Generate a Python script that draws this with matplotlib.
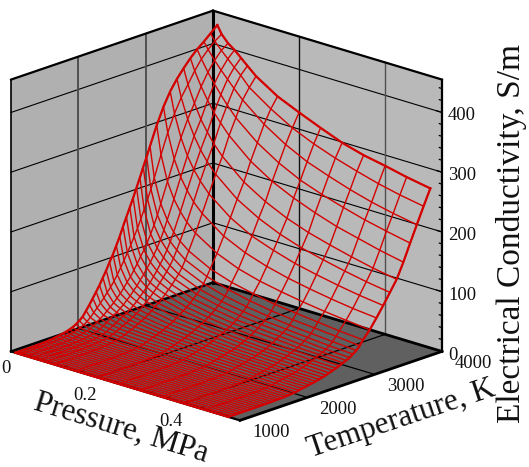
import matplotlib
matplotlib.use('Agg')
import matplotlib.pyplot as plt
import numpy as np
from mpl_toolkits.mplot3d import proj3d

plt.rcParams['font.family'] = ['Liberation Serif', 'DejaVu Serif']

PRESSURE = [0.01, 0.02, 0.035, 0.05, 0.065, 0.08, 0.1, 0.15, 0.2, 0.25, 0.3, 0.35, 0.4, 0.45, 0.505]
TEMPERATURE = list(range(1000, 3000, 50)) + list(range(3000, 4001, 100))

# conductivity, one row per temperature
SIGMA = [
    [.01] * 15,
    [.02, .01, .01, .01, .01, .01, .01, .01, .01, .01, .01, .01, .01, .01, .01],
    [.03, .02, .02, .01, .01, .01, .01, .01, .01, .01, .01, .01, .01, .01, .01],
    [.06, .04, .03, .03, .02, .02, .02, .02, .01, .01, .01, .01, .01, .01, .01],
    [.1, .07, .05, .04, .04, .04, .03, .03, .02, .02, .02, .02, .02, .01, .01],
    [.18, .13, .1, .08, .07, .06, .06, .05, .04, .04, .03, .03, .03, .03, .03],
    [.3, .2, .16, .13, .12, .1, .09, .08, .07, .06, .05, .05, .05, .04, .04],
    [.45, .32, .25, .2, .18, .16, .14, .12, .1, .09, .08, .08, .07, .07, .06],
    [.7, .5, .4, .3, .3, .25, .22, .18, .16, .14, .13, .12, .11, .1, .1],
    [1, .7, .55, .45, .4, .35, .32, .26, .22, .2, .18, .17, .16, .15, .14],
    [1.5, 1.1, .8, .7, .6, .5, .5, .4, .3, .3, .3, .25, .24, .22, .21],
    [2.1, 1.5, 1.1, .95, .85, .75, .7, .55, .48, .43, .4, .36, .34, .32, .3],
    [3, 2.1, 1.6, 1.3, 1.2, 1.1, .95, .8, .7, .6, .55, .5, .47, .45, .42],
    [3.9, 2.8, 2.1, 1.7, 1.5, 1.4, 1.2, 1, .9, .8, .7, .65, .6, .58, .55],
    [5, 3.5, 2.7, 2.2, 2, 1.8, 1.6, 1.3, 1.1, 1, .9, .85, .8, .75, .7],
    [6.2, 4.4, 3.3, 2.8, 2.4, 2.2, 2, 1.6, 1.4, 1.2, 1.1, 1, 1, .9, .9],
    [8, 5.6, 4.3, 3.6, 3.1, 2.8, 2.5, 2.1, 1.8, 1.6, 1.5, 1.3, 1.3, 1.2, 1.1],
    [10, 7.2, 5.5, 4.6, 4, 3.6, 3.2, 2.7, 2.3, 2, 1.9, 1.7, 1.6, 1.5, 1.4],
    [13, 9.2, 7, 5.8, 5.1, 4.6, 4.1, 3.4, 2.9, 2.6, 2.4, 2.2, 2.1, 1.9, 1.8],
    [17, 12, 9, 7.6, 6.6, 6, 5.3, 4.4, 3.8, 3.4, 3.1, 2.9, 2.7, 2.5, 2.4],
    [22, 16, 12, 10, 8.6, 7.8, 7, 5.7, 5, 4.4, 4, 3.7, 3.5, 3.3, 3.1],
    [30, 21, 16, 13, 11.5, 10.2, 9.3, 7.6, 6.5, 5.8, 5.3, 4.9, 4.6, 4.3, 4.1],
    [38, 27, 20, 17, 15, 13, 12, 10, 8.5, 7.5, 7, 6.5, 6, 5.8, 5.4],
    [47, 33, 24, 21, 18, 16, 14, 12, 10, 9, 8.4, 7.7, 7, 6.8, 6.4],
    [56, 39, 29, 25, 22, 19, 17, 14, 12, 11, 10, 9, 8, 8, 7.5],
    [65, 46, 34, 28, 25, 22, 20, 16, 14, 12, 11, 10, 9.5, 9, 8.5],
    [76, 53, 39, 33, 28, 25, 23, 18, 16, 14, 13, 12, 11, 10, 9.5],
    [86, 60, 45, 37, 32, 29, 26, 21, 18, 16, 14, 13, 12, 11, 11],
    [98, 68, 51, 43, 37, 33, 30, 24, 21, 18, 16, 15, 14, 13, 12.5],
    [109, 77, 58, 48, 42, 38, 34, 27, 24, 21, 18, 17, 16, 15, 14],
    [122, 87, 66, 55, 48, 43, 39, 31, 27, 24, 21, 19, 18, 17, 16],
    [135, 97, 73, 61, 54, 48, 43, 35, 30, 26, 23, 21, 20, 19, 18],
    [150, 108, 82, 69, 60, 54, 48, 39, 33, 29, 26, 24, 23, 21, 20],
    [164, 119, 91, 76, 66, 60, 54, 43, 37, 32, 29, 27, 25, 24, 22],
    [178, 131, 101, 85, 74, 67, 60, 48, 41, 36, 33, 31, 28, 27, 25],
    [192, 143, 110, 93, 82, 74, 66, 53, 46, 40, 37, 34, 31, 29, 27],
    [207, 157, 121, 103, 91, 82, 73, 59, 51, 45, 41, 38, 35, 32, 30],
    [222, 171, 133, 113, 100, 90, 80, 65, 56, 50, 45, 42, 39, 36, 34],
    [238, 186, 146, 125, 111, 100, 89, 73, 63, 56, 51, 47, 44, 41, 38],
    [253, 201, 161, 139, 123, 112, 100, 83, 72, 64, 58, 54, 51, 48, 44],
    [269, 218, 178, 154, 137, 125, 113, 94, 82, 74, 67, 63, 59, 55, 52],
    [300, 253, 211, 185, 167, 153, 139, 116, 101, 91, 84, 78, 73, 69, 65],
    [327, 286, 245, 218, 199, 183, 168, 141, 124, 112, 103, 96, 90, 85, 81],
    [349, 314, 277, 250, 230, 214, 197, 168, 148, 135, 124, 116, 109, 103, 98],
    [366, 337, 304, 279, 259, 243, 226, 195, 174, 158, 146, 137, 129, 122, 116],
    [380, 355, 327, 303, 285, 269, 252, 220, 198, 181, 168, 158, 149, 141, 134],
    [393, 374, 351, 331, 314, 300, 283, 251, 228, 211, 197, 185, 176, 167, 159],
    [404, 390, 371, 355, 340, 326, 309, 278, 255, 237, 224, 213, 203, 195, 187],
    [413, 402, 387, 374, 362, 350, 335, 305, 282, 264, 251, 239, 229, 221, 214],
    [423, 412, 400, 389, 378, 368, 352, 327, 306, 290, 277, 266, 256, 248, 241],
    [433, 420, 408, 400, 390, 380, 367, 344, 328, 313, 299, 289, 282, 274, 267],
]

P_LIM = (0, 0.532)
T_LIM = (1000, 4000)
Z_LIM = (0, 455)
P_TICKS = [0.2, 0.4]
P_TICK_LABELS = ['0.2', '0.4']
T_TICKS = [2000, 3000]
T_TICK_LABELS = ['1000', '2000', '3000', '4000']
T_LABEL_POS = [1000, 2000, 3000, 4000]
Z_TICKS = [100, 200, 300, 400]
Z_TICK_LABELS = ['100', '200', '300', '400']

RED = '#d40000'
W, H = 529, 467


def line3d(ax, p, t, z, color='k', lw=0.8, zorder=2):
    ax.plot(p, t, z, color=color, lw=lw, zorder=zorder, solid_capstyle='projecting')


def label(ax, p, t, z, s, dx, dy, size=13.4, rotation=0):
    # dx, dy in pixels from the projected data point, dy pointing down
    x2, y2, _ = proj3d.proj_transform(p, t, z, ax.get_proj())
    ax.annotate(s, (x2, y2), xytext=(dx, -dy), textcoords='offset pixels', fontsize=size,
                ha='center', va='center', rotation=rotation, rotation_mode='anchor',
                annotation_clip=False, color='#111111')


fig = plt.figure(figsize=(W / 100, H / 100), dpi=100)
side = 502.6
ax = fig.add_axes([-31.6 / W, -6.6 / H, side / W, side / H], projection='3d', proj_type='ortho')
ax.computed_zorder = False
ax.patch.set_visible(False)
ax.view_init(elev=18.7, azim=-46.8)
ax.set_box_aspect((314, 295, 287))
ax.set_xlim(*P_LIM, view_margin=0)
ax.set_ylim(*T_LIM, view_margin=0)
ax.set_zlim(*Z_LIM, view_margin=0)
ax.grid(False)
ax.set_xticks([])
ax.set_yticks([])
ax.set_zticks([])
for axis, col in [(ax.xaxis, '#b0b0b0'), (ax.yaxis, '#b9b9b9'), (ax.zaxis, '#606060')]:
    axis.set_pane_color(col)
    axis.pane.set_edgecolor(col)
    axis.line.set_color((0, 0, 0, 0))

p0, p1 = P_LIM
t0, t1 = T_LIM
z0, z1 = Z_LIM

# walls and floor grid
for z in Z_TICKS:
    line3d(ax, [p0, p0], [t0, t1], [z, z])
    line3d(ax, [p0, p1], [t1, t1], [z, z])
for t in T_TICKS:
    line3d(ax, [p0, p0], [t, t], [z0, z1], color='#505050', lw=1.4)
    line3d(ax, [p0, p1], [t, t], [z0, z0], lw=0.9)
for p, c in zip(P_TICKS, ['#111111', '#505050']):
    line3d(ax, [p, p], [t1, t1], [z0, z1], color=c, lw=1.0)
    line3d(ax, [p, p], [t0, t1], [z0, z0], lw=0.9)

# frame
line3d(ax, [p0, p0], [t0, t0], [z0, z1], lw=1.2)
line3d(ax, [p1, p1], [t1, t1], [z0, z1], lw=1.6)
line3d(ax, [p0, p0], [t1, t1], [z0, z1], lw=2.2)
line3d(ax, [p0, p0], [t0, t1], [z1, z1], lw=1.6)
line3d(ax, [p0, p1], [t1, t1], [z1, z1], lw=1.6)
line3d(ax, [p0, p0], [t0, t1], [z0, z0], lw=1.8)
line3d(ax, [p0, p1], [t1, t1], [z0, z0], lw=2.0)
line3d(ax, [p0, p1], [t0, t0], [z0, z0], lw=1.6)
line3d(ax, [p1, p1], [t0, t1], [z0, z0], lw=2.0)

# tick marks on the right wall edge and the pressure edge
for z in range(0, 456, 20):
    dp = 0.012 if z % 100 == 0 else 0.006
    line3d(ax, [p1 - dp, p1], [t1, t1], [z, z], lw=0.9)
for p in np.arange(0.04, 0.52, 0.04):
    line3d(ax, [p, p], [t0, t0 + 60], [z0, z0], lw=0.8)

# surface
P_GRID, T_GRID = np.meshgrid(PRESSURE, TEMPERATURE)
Z_GRID = np.array(SIGMA)
ax.plot_wireframe(P_GRID, T_GRID, Z_GRID, rstride=1, cstride=1, color=RED, lw=1.0, zorder=5)
for i in [0, -1]:
    ax.plot(P_GRID[:, i], T_GRID[:, i], Z_GRID[:, i], color=RED, lw=1.6, zorder=6)
    ax.plot(P_GRID[i, :], T_GRID[i, :], Z_GRID[i, :], color=RED, lw=1.6, zorder=6)

# tick labels
for z, s in zip(Z_TICKS, Z_TICK_LABELS):
    label(ax, p1, t1, z, s, 20, 3.5)
label(ax, p1, t1, 0, '0', 11, 4)
for t, s in zip(T_LABEL_POS, T_TICK_LABELS):
    label(ax, p1, t, 0, s, 31, 12)
label(ax, 0, t0, 0, '0', -5, 17)
for p, s in zip(P_TICKS, P_TICK_LABELS):
    label(ax, p, t0, 0, s, -12.5, 18)

# axis titles
label(ax, 0.266, t0, 0, 'Pressure, MPa', -4, 42, size=22.5, rotation=-17)
label(ax, p1, 2500, 0, 'Temperature, K', 60, 33, size=22.5, rotation=18.5)
label(ax, p1, t1, 227.5, 'Electrical Conductivity, S/m', 70, 18, size=24, rotation=90)

fig.savefig('out.png', dpi=100)
